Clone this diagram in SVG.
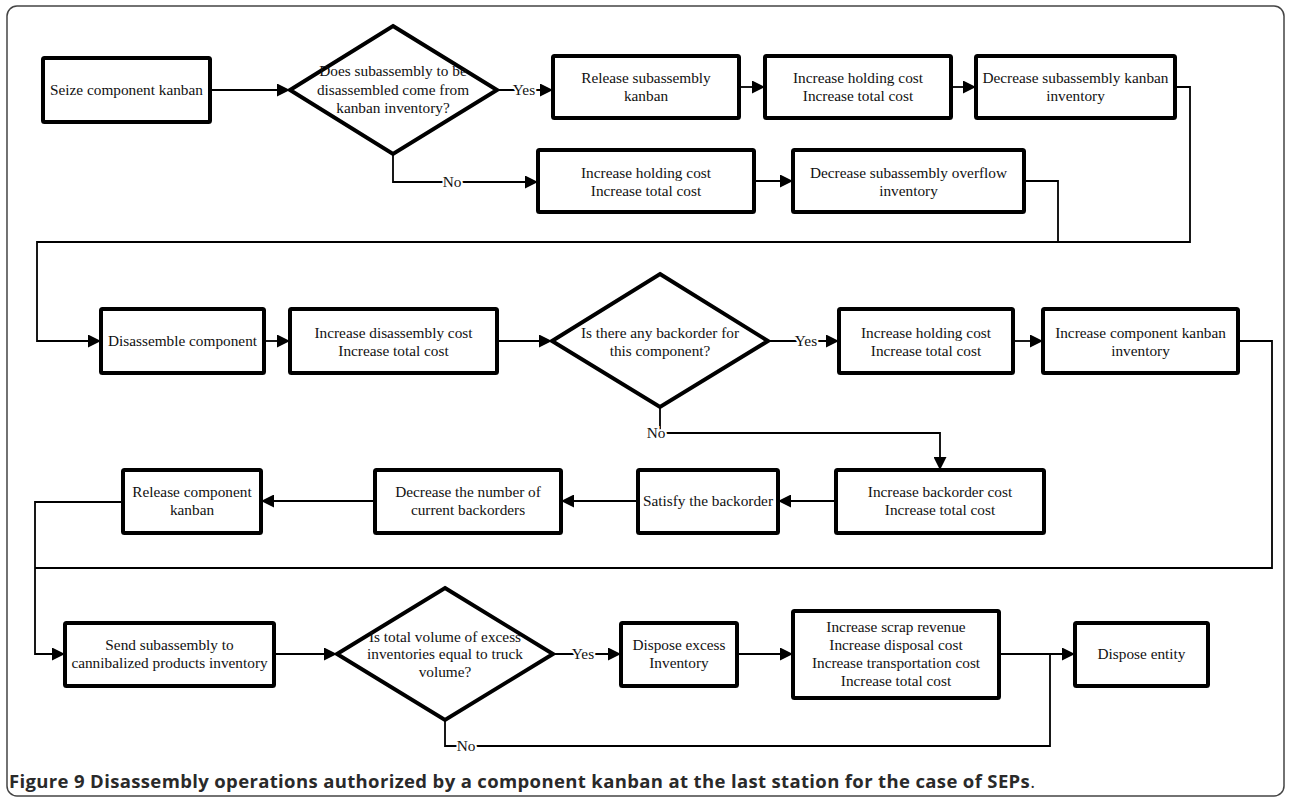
<svg xmlns="http://www.w3.org/2000/svg" width="1289" height="799" viewBox="0 0 1289 799">
<style>
.n rect, .n polygon { fill: #fff; stroke: #000; stroke-width: 4; stroke-linejoin: miter; }
.t { font-family: "Liberation Serif", "Times New Roman", serif; font-size: 15.3px; fill: #111; text-anchor: middle; }
.c { fill: none; stroke: #000; stroke-width: 1.8; }
.lbl { font-family: "Liberation Serif", "Times New Roman", serif; font-size: 15.3px; fill: #111; text-anchor: middle; stroke: #fff; stroke-width: 4; paint-order: stroke; }
.cap { font-family: "Open Sans", "Liberation Sans", sans-serif; font-size: 18.5px; font-weight: bold; fill: #2a2a2a; }
</style>
<defs>
<marker id="ah" viewBox="0 0 10 10" refX="10" refY="5" markerWidth="13" markerHeight="13" markerUnits="userSpaceOnUse" orient="auto">
<path d="M0,0 L10,5 L0,10 z" fill="#000"/>
</marker>
</defs>
<rect x="7" y="6" width="1277" height="790" rx="10" fill="#fff" stroke="#444" stroke-width="1.5"/>

<g id="connectors">
<path class="c" d="M210,90 H290" marker-end="url(#ah)"/>
<path class="c" d="M497,90 H553" marker-end="url(#ah)"/>
<path class="c" d="M739,87 H765" marker-end="url(#ah)"/>
<path class="c" d="M951,87 H976" marker-end="url(#ah)"/>
<path class="c" d="M1175,87 H1190 V242 H37 V341 H101" marker-end="url(#ah)"/>
<path class="c" d="M393,154 V182 H538" marker-end="url(#ah)"/>
<path class="c" d="M754,181 H793" marker-end="url(#ah)"/>
<path class="c" d="M1024,181 H1058 V242"/>
<path class="c" d="M264,341 H290" marker-end="url(#ah)"/>
<path class="c" d="M497,341 H552" marker-end="url(#ah)"/>
<path class="c" d="M768,341 H839" marker-end="url(#ah)"/>
<path class="c" d="M1013,341 H1043" marker-end="url(#ah)"/>
<path class="c" d="M1238,341 H1272 V568 H35"/>
<path class="c" d="M660,407 V433 H940 V470" marker-end="url(#ah)"/>
<path class="c" d="M836,501 H778" marker-end="url(#ah)"/>
<path class="c" d="M638,501 H561" marker-end="url(#ah)"/>
<path class="c" d="M375,501 H261" marker-end="url(#ah)"/>
<path class="c" d="M123,502 H35 V654 H65" marker-end="url(#ah)"/>
<path class="c" d="M274,654 H337" marker-end="url(#ah)"/>
<path class="c" d="M553,654 H621" marker-end="url(#ah)"/>
<path class="c" d="M737,654 H793" marker-end="url(#ah)"/>
<path class="c" d="M999,654 H1075" marker-end="url(#ah)"/>
<path class="c" d="M445,720 V746 H1050 V654"/>
<text class="lbl" x="524" y="95">Yes</text>
<text class="lbl" x="452" y="187">No</text>
<text class="lbl" x="806" y="346">Yes</text>
<text class="lbl" x="656" y="438">No</text>
<text class="lbl" x="583" y="659">Yes</text>
<text class="lbl" x="466" y="751">No</text>
</g>

<g id="n1" class="n"><rect x="43" y="58" width="167" height="64" rx="1.5"/><text class="t" x="126.5" y="95">Seize component kanban</text></g>
<g id="d1" class="n"><polygon points="393,26 497,90 393,154 290,90"/><text class="t" x="393" y="76">Does subassembly to be</text><text class="t" x="393" y="95">disassembled come from</text><text class="t" x="393" y="113">kanban inventory?</text></g>
<g id="n2" class="n"><rect x="553" y="56" width="186" height="62" rx="1.5"/><text class="t" x="646" y="83">Release subassembly</text><text class="t" x="646" y="101">kanban</text></g>
<g id="n3" class="n"><rect x="765" y="56" width="186" height="62" rx="1.5"/><text class="t" x="858" y="83">Increase holding cost</text><text class="t" x="858" y="101">Increase total cost</text></g>
<g id="n4" class="n"><rect x="976" y="56" width="199" height="62" rx="1.5"/><text class="t" x="1075.5" y="83">Decrease subassembly kanban</text><text class="t" x="1075.5" y="101">inventory</text></g>
<g id="n5" class="n"><rect x="538" y="150" width="216" height="62" rx="1.5"/><text class="t" x="646" y="178">Increase holding cost</text><text class="t" x="646" y="196">Increase total cost</text></g>
<g id="n6" class="n"><rect x="793" y="150" width="231" height="62" rx="1.5"/><text class="t" x="908.5" y="178">Decrease subassembly overflow</text><text class="t" x="908.5" y="196">inventory</text></g>

<g id="n7" class="n"><rect x="101" y="309" width="163" height="64" rx="1.5"/><text class="t" x="182.5" y="346">Disassemble component</text></g>
<g id="n8" class="n"><rect x="290" y="309" width="207" height="64" rx="1.5"/><text class="t" x="393.5" y="338">Increase disassembly cost</text><text class="t" x="393.5" y="356">Increase total cost</text></g>
<g id="d2" class="n"><polygon points="660,274 768,341 660,407 552,341"/><text class="t" x="660" y="338">Is there any backorder for</text><text class="t" x="660" y="356">this component?</text></g>
<g id="n9" class="n"><rect x="839" y="309" width="174" height="64" rx="1.5"/><text class="t" x="926" y="338">Increase holding cost</text><text class="t" x="926" y="356">Increase total cost</text></g>
<g id="n10" class="n"><rect x="1043" y="309" width="195" height="64" rx="1.5"/><text class="t" x="1140.5" y="338">Increase component kanban</text><text class="t" x="1140.5" y="356">inventory</text></g>

<g id="n11" class="n"><rect x="836" y="470" width="208" height="63" rx="1.5"/><text class="t" x="940" y="497">Increase backorder cost</text><text class="t" x="940" y="515">Increase total cost</text></g>
<g id="n12" class="n"><rect x="638" y="470" width="140" height="63" rx="1.5"/><text class="t" x="708" y="506">Satisfy the backorder</text></g>
<g id="n13" class="n"><rect x="375" y="470" width="186" height="63" rx="1.5"/><text class="t" x="468" y="497">Decrease the number of</text><text class="t" x="468" y="515">current backorders</text></g>
<g id="n14" class="n"><rect x="123" y="470" width="138" height="63" rx="1.5"/><text class="t" x="192" y="497">Release component</text><text class="t" x="192" y="515">kanban</text></g>

<g id="n15" class="n"><rect x="65" y="623" width="209" height="63" rx="1.5"/><text class="t" x="169.5" y="650">Send subassembly to</text><text class="t" x="169.5" y="668">cannibalized products inventory</text></g>
<g id="d3" class="n"><polygon points="445,588 553,654 445,720 337,654"/><text class="t" x="445" y="642">Is total volume of excess</text><text class="t" x="445" y="659">inventories equal to truck</text><text class="t" x="445" y="677">volume?</text></g>
<g id="n16" class="n"><rect x="621" y="623" width="116" height="63" rx="1.5"/><text class="t" x="679" y="650">Dispose excess</text><text class="t" x="679" y="668">Inventory</text></g>
<g id="n17" class="n"><rect x="793" y="611" width="206" height="87" rx="1.5"/><text class="t" x="896" y="632">Increase scrap revenue</text><text class="t" x="896" y="650">Increase disposal cost</text><text class="t" x="896" y="668">Increase transportation cost</text><text class="t" x="896" y="686">Increase total cost</text></g>
<g id="n18" class="n"><rect x="1075" y="623" width="133" height="63" rx="1.5"/><text class="t" x="1141.5" y="659">Dispose entity</text></g>

<text class="cap" x="9" y="788" textLength="1026" lengthAdjust="spacing">Figure 9 Disassembly operations authorized by a component kanban at the last station for the case of SEPs<tspan font-weight="normal">.</tspan></text>
</svg>
